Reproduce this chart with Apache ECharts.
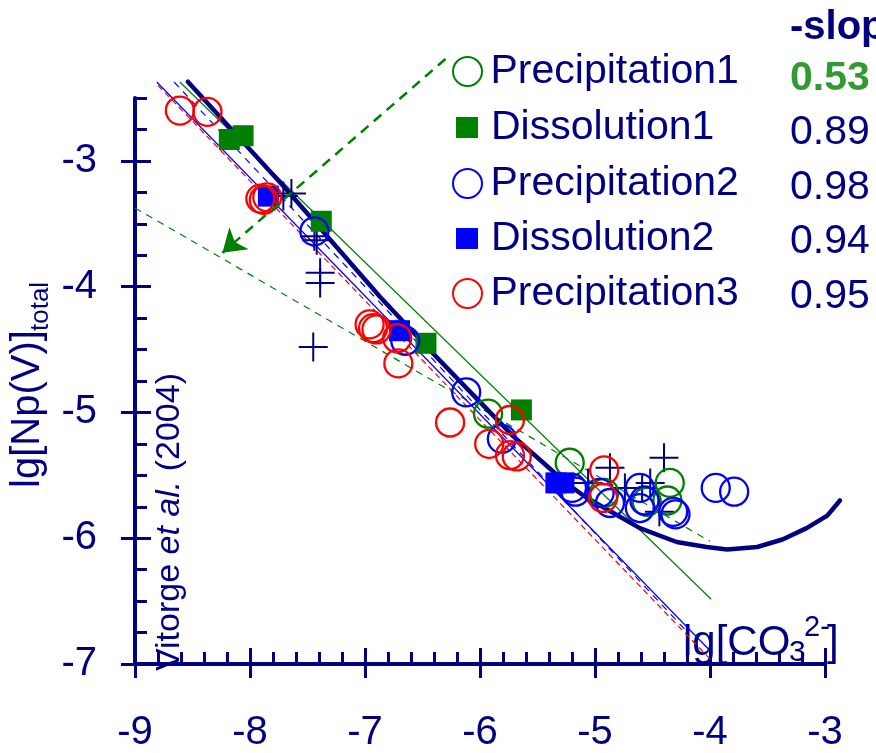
<!DOCTYPE html>
<html>
<head>
<meta charset="utf-8">
<script src="https://cdn.jsdelivr.net/npm/echarts@6/dist/echarts.min.js"></script>
<style>
  html, body { margin: 0; padding: 0; background: #ffffff; }
  #chart { width: 876px; height: 753px; }
</style>
</head>
<body>
<div id="chart"></div>
<script>
// ---- data: lg[CO3 2-] (x) vs lg[Np(V)]total (y) ----
const seriesNames = ['Precipitation1', 'Dissolution1', 'Precipitation2', 'Dissolution2', 'Precipitation3'];
const slopes = [0.53, 0.89, 0.98, 0.94, 0.95];
const xTicks = [-9, -8, -7, -6, -5, -4, -3];
const yTicks = [-7, -6, -5, -4, -3];

const precipitation1 = [
  [-5.93, -5.01], [-5.22, -5.40], [-4.92, -5.64], [-4.55, -5.71], [-4.37, -5.70], [-4.35, -5.56]
];
const dissolution1 = [
  [-8.18, -2.83], [-8.06, -2.80], [-7.38, -3.48], [-6.47, -4.45], [-5.64, -4.98]
];
const precipitation2 = [
  [-7.44, -3.56], [-6.65, -4.43], [-6.12, -4.84], [-5.81, -5.21], [-5.20, -5.60], [-5.17, -5.63],
  [-4.96, -5.64], [-4.87, -5.72], [-4.61, -5.60], [-4.61, -5.76], [-4.57, -5.70], [-4.32, -5.79],
  [-4.30, -5.81], [-3.95, -5.60], [-3.79, -5.63]
];
const dissolution2 = [
  [-7.84, -3.28], [-6.70, -4.35], [-5.34, -5.56], [-5.27, -5.56]
];
const precipitation3 = [
  [-8.61, -2.60], [-8.37, -2.61], [-7.91, -3.30], [-7.88, -3.31], [-7.85, -3.29], [-6.96, -4.30],
  [-6.93, -4.33], [-6.90, -4.34], [-6.72, -4.41], [-6.71, -4.61], [-6.26, -5.08], [-5.74, -5.06],
  [-5.92, -5.25], [-5.74, -5.34], [-5.68, -5.35], [-4.92, -5.46], [-4.93, -5.68]
];
// literature points (Vitorge et al. 2004)
const literature = [
  [-7.71, -3.28], [-7.64, -3.26], [-7.44, -3.60], [-7.42, -3.63], [-7.39, -3.89], [-7.39, -3.97],
  [-7.45, -4.48], [-4.40, -5.36], [-4.87, -5.44], [-5.06, -5.56], [-4.74, -5.60], [-4.52, -5.56],
  [-4.59, -5.60], [-4.44, -5.79]
];
// solubility curve
const solubilityCurve = [
  [-8.54, -2.37], [-7.71, -3.20], [-6.87, -4.08], [-6.41, -4.53], [-6.06, -4.86], [-5.71, -5.19],
  [-5.45, -5.40], [-5.24, -5.57], [-5.07, -5.68], [-4.84, -5.80], [-4.61, -5.92], [-4.29, -6.03],
  [-4.03, -6.07], [-3.85, -6.09], [-3.59, -6.07], [-3.37, -6.01], [-3.16, -5.92], [-2.98, -5.82],
  [-2.87, -5.70]
];
// fitted lines: start point and end abscissa, one per data set
const fitStart = [[-9.0, -3.374], [-8.61, -2.373], [-8.66, -2.373], [-8.81, -2.373], [-8.80, -2.40]];
const fitEndX = [-4.0, -3.99, -4.2, -4.01, -3.98];
// pointer from the Precipitation1 legend entry to its fit
const pointer = [[-6.30, -2.19], [-8.24, -3.73]];

// ---- styles ----
const NAVY = '#000080';
const FONT = '"Liberation Sans", Arial, Helvetica, sans-serif';
const colors = ['#008000', '#008000', '#0000ff', '#0000ff', '#ff0000'];
const openMarker = [true, false, true, false, true];
const fitDash = [[7, 6], 'solid', [7, 6], 'solid', [6, 4]];
const pointSets = [precipitation1, dissolution1, precipitation2, dissolution2, precipitation3];
const legendCenters = [71, 127, 183, 238, 293];
const valueCenters = [79, 132.5, 187.5, 242, 296.5];

const chart = echarts.init(document.getElementById('chart'), null, { renderer: 'canvas' });

const series = [];

// fitted lines (drawn first, under everything)
slopes.forEach((s, i) => {
  const [x0, y0] = fitStart[i];
  const x1 = fitEndX[i];
  series.push({
    type: 'line',
    xAxisIndex: 0, yAxisIndex: 0,
    data: [[x0, y0], [x1, y0 - s * (x1 - x0)]],
    showSymbol: false, symbol: 'none', clip: false, silent: true, z: 2,
    lineStyle: { color: colors[i], width: 1.2, type: fitDash[i] }
  });
});

// solubility curve (runs past the right end of the axis)
series.push({
  type: 'lines', coordinateSystem: 'cartesian2d', xAxisIndex: 0, yAxisIndex: 0,
  polyline: true, clip: false, silent: true, z: 3,
  data: [{ coords: solubilityCurve }],
  lineStyle: { color: NAVY, width: 4.5, opacity: 1, cap: 'round', join: 'round' }
});

// literature crosses
series.push({
  type: 'scatter', xAxisIndex: 0, yAxisIndex: 0,
  data: literature, symbol: 'path://M0,15H30M15,0V30', symbolSize: 29,
  clip: false, silent: true, z: 4,
  itemStyle: { color: 'rgba(0,0,0,0)', borderColor: NAVY, borderWidth: 2, opacity: 1 }
});

// the five experimental data sets
pointSets.forEach((pts, i) => {
  series.push({
    name: seriesNames[i], type: 'scatter', xAxisIndex: 0, yAxisIndex: 0,
    data: pts, clip: false, z: 5,
    symbol: openMarker[i] ? 'circle' : 'rect',
    symbolSize: openMarker[i] ? 28 : 21,
    itemStyle: openMarker[i]
      ? { color: 'rgba(0,0,0,0)', borderColor: colors[i], borderWidth: 2.3, opacity: 1 }
      : { color: colors[i], borderWidth: 0, opacity: 1 }
  });
});

// dashed pointer arrow
series.push({
  type: 'lines', coordinateSystem: 'cartesian2d', xAxisIndex: 0, yAxisIndex: 0,
  data: [{ coords: pointer }], silent: true, clip: false, z: 6,
  symbol: ['none', 'arrow'], symbolSize: [1, 22],
  lineStyle: { color: '#008000', width: 2.5, type: [10, 7], opacity: 1 }
});

// legend: one component per row
const legends = seriesNames.map((name, i) => {
  const open = openMarker[i];
  return {
    data: [{
      name: name,
      icon: open ? 'circle' : 'rect',
      itemStyle: open
        ? { color: 'rgba(0,0,0,0)', borderColor: colors[i], borderWidth: 2, opacity: 1 }
        : { color: colors[i], borderWidth: 0, opacity: 1 }
    }],
    orient: 'horizontal', selectedMode: false, padding: 0,
    left: open ? 452 : 456,
    top: legendCenters[i] - 20,
    itemWidth: open ? 36 : 22,
    itemHeight: open ? 29 : 21,
    textStyle: {
      fontFamily: FONT, fontSize: 41, lineHeight: 40, color: NAVY,
      padding: open ? [0, 0, 0, 0] : [0, 0, 0, 8]
    }
  };
});

const graphics = [];
// slope column
graphics.push({
  type: 'text', x: 790, y: 28, silent: true,
  style: { text: '-slope', font: 'bold 40px ' + FONT, fill: NAVY, align: 'left', verticalAlign: 'middle' }
});
slopes.forEach((s, i) => {
  graphics.push({
    type: 'text', x: 790, y: valueCenters[i], silent: true,
    style: {
      text: s.toFixed(2),
      font: (i === 0 ? 'bold ' : '') + '41px ' + FONT,
      fill: i === 0 ? '#339933' : NAVY,
      align: 'left', verticalAlign: 'middle'
    }
  });
});
// y axis title lg[Np(V)]total, rotated
graphics.push({
  type: 'text', x: 28, y: 488, rotation: Math.PI / 2, silent: true,
  style: { text: 'lg[Np(V)]', font: '40px ' + FONT, fill: NAVY, align: 'left', verticalAlign: 'middle' }
});
graphics.push({
  type: 'text', x: 41, y: 331, rotation: Math.PI / 2, silent: true,
  style: { text: 'total', font: '26px ' + FONT, fill: NAVY, align: 'left', verticalAlign: 'middle' }
});
// source note along the y axis
graphics.push({
  type: 'text', x: 170, y: 671, rotation: Math.PI / 2, silent: true,
  style: {
    text: '{n|Vitorge }{i|et al.}{n| (2004)}',
    align: 'left', verticalAlign: 'middle',
    rich: {
      n: { fontFamily: FONT, fontSize: 34, fill: NAVY, color: NAVY },
      i: { fontFamily: FONT, fontSize: 34, fontStyle: 'italic', fill: NAVY, color: NAVY }
    }
  }
});
// x axis title lg[CO3 2-]
graphics.push({
  type: 'text', x: 683, y: 643.5, silent: true,
  style: { text: 'lg[CO', font: '42px ' + FONT, fill: NAVY, align: 'left', verticalAlign: 'middle' }
});
graphics.push({
  type: 'text', x: 789, y: 652.5, silent: true,
  style: { text: '3', font: '30px ' + FONT, fill: NAVY, align: 'left', verticalAlign: 'middle' }
});
graphics.push({
  type: 'text', x: 804, y: 628, silent: true,
  style: { text: '2-', font: '29px ' + FONT, fill: NAVY, align: 'left', verticalAlign: 'middle' }
});
graphics.push({
  type: 'text', x: 827, y: 643.5, silent: true,
  style: { text: ']', font: '42px ' + FONT, fill: NAVY, align: 'left', verticalAlign: 'middle' }
});

const axisLineStyle = { color: NAVY, width: 4 };
const tickStyle = { color: NAVY, width: 3 };

// main axis: line + minor ticks (inside)
function minorAxis(min, max, step, pos) {
  return {
    type: 'value', min: min, max: max, interval: step, position: pos,
    axisLine: { show: true, onZero: false, lineStyle: axisLineStyle },
    axisTick: { show: true, inside: true, length: 12, lineStyle: tickStyle },
    axisLabel: { show: false }, splitLine: { show: false }
  };
}
// major ticks crossing the axis: outer half with labels, inner half longer than minor ticks
function majorOuterAxis(min, max, ticks, pos, margin) {
  return {
    type: 'value', min: min, max: max, interval: 1, position: pos,
    axisLine: { show: false, onZero: false },
    axisTick: { show: true, inside: false, length: 14, customValues: ticks, lineStyle: tickStyle },
    axisLabel: {
      show: true, customValues: ticks, margin: margin, color: NAVY,
      fontFamily: FONT, fontSize: 40
    },
    splitLine: { show: false }
  };
}
function majorInnerAxis(min, max, ticks, pos) {
  return {
    type: 'value', min: min, max: max, interval: 1, position: pos,
    axisLine: { show: false, onZero: false },
    axisTick: { show: true, inside: true, length: 16, customValues: ticks, lineStyle: tickStyle },
    axisLabel: { show: false }, splitLine: { show: false }
  };
}

const option = {
  backgroundColor: '#ffffff',
  animation: false,
  grid: { left: 135, right: 51, top: 98, bottom: 81, containLabel: false },
  xAxis: [
    minorAxis(-9, -3, 0.2, 'bottom'),
    majorOuterAxis(-9, -3, xTicks, 'bottom', 49),
    majorInnerAxis(-9, -3, xTicks, 'bottom')
  ],
  yAxis: [
    minorAxis(-7, -2.5, 0.25, 'left'),
    majorOuterAxis(-7, -2.5, yTicks, 'left', 38),
    majorInnerAxis(-7, -2.5, yTicks, 'left')
  ],
  legend: legends,
  graphic: graphics,
  series: series
};

chart.setOption(option);
</script>
</body>
</html>
